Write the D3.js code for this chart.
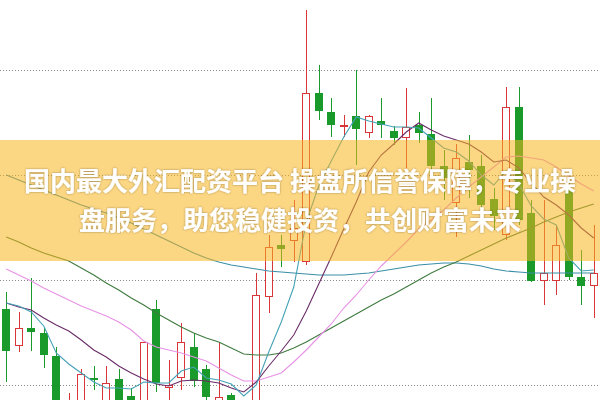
<!DOCTYPE html>
<html><head><meta charset="utf-8">
<script src="https://cdn.jsdelivr.net/npm/d3@7"></script>
<style>html,body{margin:0;padding:0;background:#fff;overflow:hidden}</style>
</head><body><svg id="c" width="600" height="400"></svg>
<script>
// Daily candles (price)
const openP  = [3.91,3.54,3.72,3.67,3.44,2.90,2.95,3.22,2.98,3.21,3.04,2.98,3.91,3.12,3.22,3.53,3.31,2.95,3.05,2.95,2.95,4.03,4.55,4.59,4.38,6.07,5.88,5.74,5.84,5.67,5.79,5.69,5.62,5.75,5.66,5.34,4.97,5.38,5.34,5.01,4.65,5.93,4.87,4.19,4.19,5.10,4.23,4.14];
const highP  = [4.08,3.88,4.22,3.72,3.53,3.07,3.31,3.34,3.34,3.31,3.12,3.59,4.00,3.40,3.77,3.67,3.35,3.58,3.07,2.98,4.27,4.65,4.65,5.00,6.90,6.35,6.02,5.85,6.30,5.85,6.02,5.74,6.12,5.88,6.02,5.50,5.56,5.65,5.45,5.12,6.13,6.13,5.00,5.00,4.75,5.25,4.50,4.75];
const lowP   = [3.18,3.48,3.49,3.32,2.90,2.86,2.92,3.10,2.96,2.93,2.90,2.95,3.08,2.98,3.10,3.13,2.98,2.92,2.90,2.80,2.93,3.87,4.33,4.38,4.35,5.80,5.63,5.63,5.35,5.62,5.62,5.55,5.30,5.57,5.30,5.00,4.63,5.02,4.90,4.70,4.60,4.75,4.18,3.95,4.05,4.20,3.95,3.82];
const closeP = [3.49,3.72,3.68,3.45,2.97,2.99,3.26,3.20,3.17,2.97,2.96,3.58,3.17,3.15,3.58,3.19,3.03,3.03,2.95,2.85,4.05,4.53,4.51,4.72,6.07,5.89,5.75,5.75,5.71,5.84,5.75,5.62,5.73,5.67,5.34,5.22,5.42,5.30,4.95,4.84,5.93,4.80,4.19,4.27,4.55,4.23,4.14,4.27];
// Moving averages
const ma5  = [3.97,3.94,3.88,3.74,3.47,3.36,3.27,3.18,3.12,3.12,3.11,3.18,3.17,3.17,3.29,3.33,3.22,3.20,3.16,3.04,3.15,3.48,3.78,4.13,4.78,5.14,5.39,5.63,5.83,5.79,5.76,5.73,5.73,5.72,5.62,5.52,5.48,5.39,5.25,5.15,5.29,5.16,4.94,4.81,4.75,4.42,4.29,4.30];
const ma10 = [3.97,3.93,3.90,3.82,3.75,3.69,3.60,3.50,3.43,3.34,3.27,3.21,3.16,3.14,3.19,3.20,3.19,3.17,3.12,3.08,3.18,3.34,3.49,3.65,3.89,4.16,4.43,4.71,4.98,5.28,5.45,5.56,5.68,5.77,5.70,5.64,5.60,5.56,5.48,5.38,5.40,5.32,5.17,5.03,4.95,4.85,4.72,4.62];
const ma20 = [4.31,4.25,4.19,4.12,4.06,4.00,3.94,3.89,3.84,3.78,3.70,3.59,3.53,3.50,3.47,3.43,3.39,3.32,3.25,3.19,3.19,3.23,3.27,3.38,3.50,3.63,3.76,3.92,4.05,4.20,4.34,4.46,4.58,4.71,4.80,4.90,5.02,5.13,5.23,5.33,5.43,5.44,5.42,5.40,5.33,5.24,5.16,5.09];
const ma30 = [4.63,4.58,4.52,4.47,4.43,4.39,4.32,4.25,4.17,4.10,4.02,3.95,3.87,3.80,3.73,3.67,3.62,3.58,3.52,3.46,3.45,3.45,3.47,3.52,3.58,3.65,3.72,3.79,3.86,3.93,4.00,4.06,4.13,4.20,4.27,4.33,4.38,4.44,4.50,4.56,4.62,4.67,4.72,4.78,4.83,4.88,4.92,4.96];
const ma60 = [5.25,5.20,5.15,5.10,5.05,5.00,4.95,4.91,4.87,4.82,4.77,4.71,4.65,4.59,4.53,4.47,4.42,4.38,4.35,4.33,4.31,4.29,4.28,4.27,4.26,4.25,4.25,4.25,4.26,4.27,4.29,4.31,4.33,4.35,4.36,4.37,4.37,4.36,4.34,4.31,4.29,4.28,4.27,4.27,4.27,4.27,4.27,4.27];
const gridTicks = [3.15, 4.20, 5.25, 6.30];
const bannerLines = ["国内最大外汇配资平台 操盘所信誉保障，专业操", "盘服务，助您稳健投资，共创财富未来"];

const W = 600, H = 400;
const svg = d3.select('#c');
const idx = d3.range(openP.length);
const x = d3.scaleBand().domain(idx).range([0, W]).paddingInner(0.36).paddingOuter(0.18);
const y = d3.scaleLinear().domain([3, 7]).range([H, 0]);
const cx = i => Math.round(x(i) + x.bandwidth() / 2) + 0.5;

// grid
const g = svg.append('g').call(d3.axisLeft(y).tickValues(gridTicks).tickSize(-W).tickFormat(''));
g.select('.domain').remove();
g.selectAll('.tick line').attr('stroke', '#8a8a8a').attr('stroke-dasharray', '1,2');

const RED = '#d9363a', GREEN = '#1a9a2a';
const cg = svg.append('g');
idx.forEach(i => {
  const up = closeP[i] >= openP[i];
  const col = up ? RED : GREEN;
  cg.append('line').attr('x1', cx(i)).attr('x2', cx(i))
    .attr('y1', y(highP[i])).attr('y2', y(lowP[i])).attr('stroke', col).attr('stroke-width', 1);
  const top = y(Math.max(openP[i], closeP[i])), bot = y(Math.min(openP[i], closeP[i]));
  const bx = Math.round(x(i));
  const bw = Math.round(x.bandwidth());
  if (up) {
    cg.append('rect').attr('x', bx + 0.5).attr('y', Math.round(top) + 0.5)
      .attr('width', bw - 1).attr('height', Math.max(1, Math.round(bot - top) - 1))
      .attr('fill', '#fff').attr('stroke', col).attr('stroke-width', 1);
  } else {
    cg.append('rect').attr('x', bx).attr('y', Math.round(top))
      .attr('width', bw).attr('height', Math.max(1, Math.round(bot - top)))
      .attr('fill', col);
  }
});

const line = d3.line().x((d, i) => x(i) + x.bandwidth() / 2).y(d => y(d));
[[ma60, '#3a8ea6'], [ma30, '#3f7a3f'], [ma20, '#e892e6'], [ma10, '#6a2c68'], [ma5, '#45a2b6']].forEach(([arr, c]) => {
  svg.append('path').datum(arr).attr('d', line).attr('fill', 'none').attr('stroke', c).attr('stroke-width', 1.1);
});

// banner
svg.append('rect').attr('x', 0).attr('y', 140).attr('width', W).attr('height', 121)
  .attr('fill', 'rgb(247,180,30)').attr('opacity', 0.55);

const defs = svg.append('defs');
const f = defs.append('filter').attr('id', 'sh').attr('x', '-10%').attr('y', '-30%').attr('width', '120%').attr('height', '160%');
f.append('feDropShadow').attr('dx', 0).attr('dy', 0).attr('stdDeviation', 1.2).attr('flood-color', '#000').attr('flood-opacity', 0.35);

svg.append('g').attr('filter', 'url(#sh)').selectAll('text').data(bannerLines).join('text')
  .attr('x', 300).attr('y', (d, i) => 191 + i * 39)
  .attr('text-anchor', 'middle')
  .attr('font-family', '"Noto Sans CJK SC", sans-serif')
  .attr('font-weight', 'bold').attr('font-size', 26)
  .attr('fill', '#fff')
  .text(d => d);
</script>
</body></html>
